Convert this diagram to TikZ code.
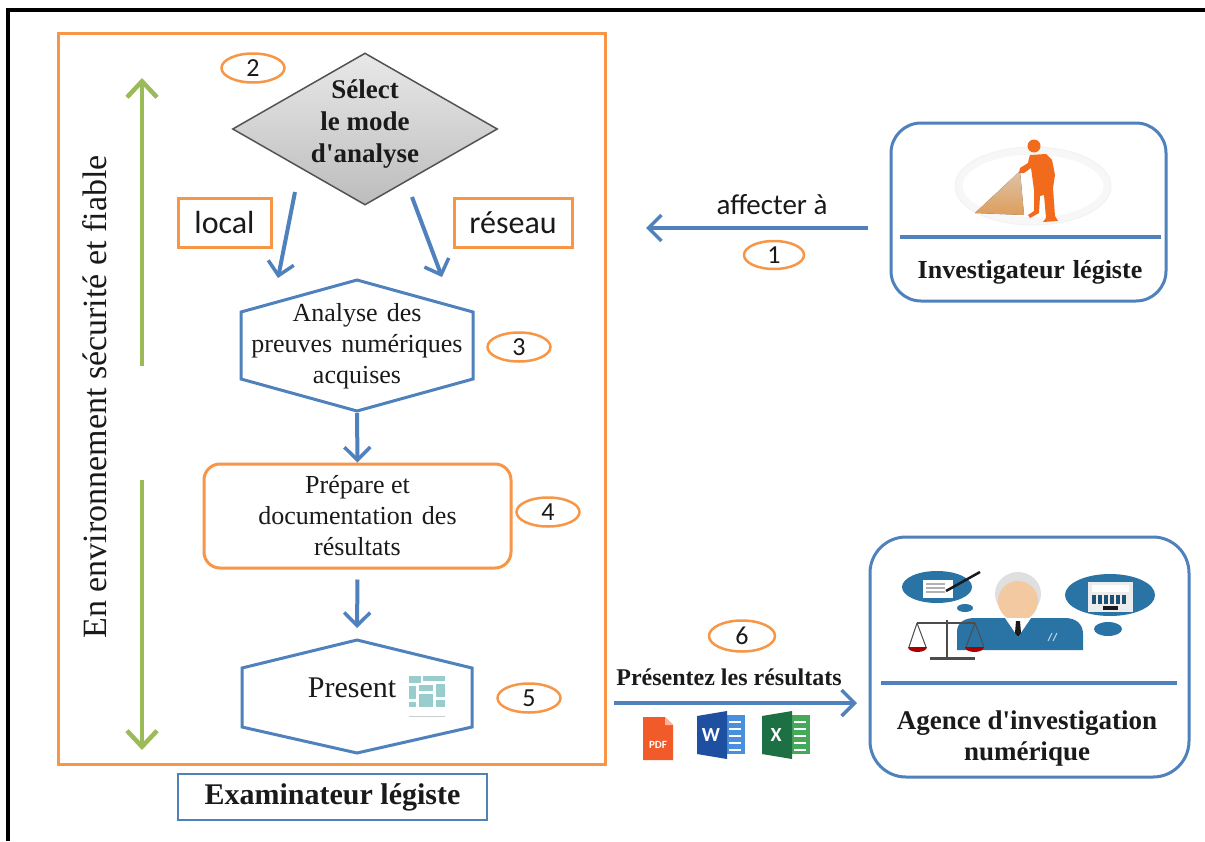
\documentclass[tikz,border=0pt]{standalone}
\usepackage{fontspec}
\setmainfont{Liberation Serif}
\newfontfamily\calibri{Carlito}
\usetikzlibrary{shapes.geometric,arrows.meta,calc}

\definecolor{ofblue}{HTML}{4F81BD}
\definecolor{oforange}{HTML}{F79646}
\definecolor{ofgreen}{HTML}{9BBB59}
\definecolor{figorange}{HTML}{F26A1B}
\definecolor{jblue}{HTML}{2A73A5}
\definecolor{skin}{HTML}{F2C9A0}
\definecolor{pdfred}{HTML}{F15A29}
\definecolor{wdark}{HTML}{1E4FA0}
\definecolor{wlight}{HTML}{4A8FDB}
\definecolor{xdark}{HTML}{1D7044}
\definecolor{xlight}{HTML}{46A85A}
\definecolor{ink}{HTML}{1A1A1A}

\tikzset{
  flowarrow/.style={draw=ofblue, line width=4pt,
    -{Straight Barb[length=13pt,width=26pt,line width=3.5pt]}},
  envarrow/.style={draw=ofgreen, line width=4.5pt,
    -{Straight Barb[length=16pt,width=30pt,line width=4.5pt]}},
  numtag/.style={ellipse, draw=oforange, line width=2.5pt, fill=white,
    minimum width=63pt, minimum height=29pt, inner sep=0pt,
    font=\calibri\fontsize{26}{26}\selectfont, text=ink},
  choicebox/.style={draw=oforange, line width=3pt, fill=white,
    minimum height=49pt, inner sep=0pt,
    font=\calibri\fontsize{32}{32}\selectfont, text=ink},
  hexline/.style={draw=ofblue, line width=3pt, fill=white, line join=miter},
  actorbox/.style={draw=ofblue, line width=3pt, fill=white},
  sepline/.style={draw=ofblue, line width=4pt},
}

\begin{document}
\begin{tikzpicture}[x=1pt,y=-1pt]
\useasboundingbox (0,0) rectangle (1205,841);
\fill[white] (0,0) rectangle (1205,841);

% outer black border (top and left)
\draw[line width=4pt, black] (8,841) -- (8,10) -- (1205,10);

% ---------------- examiner frame ----------------
\node[draw=oforange, line width=3pt, minimum width=547pt, minimum height=731pt,
      anchor=north west, inner sep=0pt] (frame) at (57,32) {};
\node[draw=ofblue, line width=2.5pt, fill=white, minimum width=309pt,
      minimum height=46pt, font=\bfseries\fontsize{30}{30}\selectfont, text=ink]
      (exam) at (332.5,797) {Examinateur légiste};

% secure environment arrows and caption
\coordinate (g1a) at (142,366);
\coordinate (g1b) at (142,78);
\coordinate (g2a) at (142,480);
\coordinate (g2b) at (142,750);
\draw[envarrow] (g1a) -- (g1b);
\draw[envarrow] (g2a) -- (g2b);
\node[rotate=90, font=\fontsize{34}{34}\selectfont, text=ink] (env) at (95,397)
      {En environnement sécurité et fiable};

% decision diamond
\node[diamond, draw=gray!65!black, line width=1.5pt, top color=gray!18,
      bottom color=gray!52, minimum width=265pt, minimum height=152pt,
      inner sep=0pt] (sel) at (365,129) {};
\node[font=\bfseries\fontsize{27}{32}\selectfont, align=center, text=ink]
      (seltxt) at (365,124) {Sélect\\le mode\\d\textquotesingle analyse};
\node[numtag] (n2) at (253,68) {2};

% local / network choices
\node[choicebox, minimum width=93pt] (loc) at (224.5,222.5) {local};
\node[choicebox, minimum width=118pt] (net) at (513,222.5) {réseau};
\coordinate (locs) at (295,192);
\coordinate (loce) at (278,278);
\coordinate (nets) at (412,197);
\coordinate (nete) at (442,277);
\draw[flowarrow] (locs) -- (loce);
\draw[flowarrow] (nets) -- (nete);

% step 3: analysis hexagon
\path[hexline] (357,280) coordinate (h3t) -- (473,312) -- (473,379)
      -- (357,411) coordinate (h3b) -- (241,379) -- (241,312) -- cycle;
\node[font=\fontsize{26}{31}\selectfont, align=center, text=ink] (ana) at (357,346)
      {Analyse\hspace{9pt}des\\preuves\hspace{9pt}numériques\\acquises};
\node[numtag] (n3) at (519,347) {3};

% step 4: documentation box
\node[draw=oforange, line width=3pt, fill=white, rounded corners=16pt,
      minimum width=307pt, minimum height=104pt, align=center, text=ink,
      font=\fontsize{26}{31}\selectfont] (prep) at (357.5,516)
      {Prépare et\\documentation\hspace{9pt}des\\résultats};
\node[numtag] (n4) at (548,512) {4};
\draw[flowarrow] ($(h3b)+(0,2)$) -- (prep.north);

% step 5: presentation hexagon
\path[hexline] (357,640) coordinate (h5t) -- (472,668) -- (472,727)
      -- (357,753) coordinate (h5b) -- (242,727) -- (242,668) -- cycle;
\draw[flowarrow] ($(prep.south)+(0,10)$) -- ($(h5t)+(0,-12)$);
\node[font=\fontsize{30}{30}\selectfont, text=ink] (pres) at (352,688) {Present};
% small slide icon
\begin{scope}[fill=teal!40]
  \fill (409,676) rectangle (421,683);
  \fill (423,676) rectangle (445,681);
  \fill (409,686) rectangle (416,699);
  \fill (419,685) rectangle (433,691);
  \fill (436,684) rectangle (445,697);
  \fill (419,694) rectangle (433,707);
  \fill (409,702) rectangle (416,707);
  \fill (436,700) rectangle (445,707);
\end{scope}
\draw[gray!40, line width=1pt] (409,716) -- (445,716);
\node[numtag] (n5) at (529,698) {5};

% ---------------- investigator ----------------
\node[actorbox, rounded corners=30pt, minimum width=275pt, minimum height=178pt]
      (inv) at (1028.5,212) {};
\draw[sepline] ($(inv.west)+(10,25)$) -- ($(inv.east)+(-7,25)$);
\node[font=\bfseries\fontsize{26}{26}\selectfont, text=ink] (invtxt) at (1030,272)
      {Investigateur\hspace{8pt}légiste};
% investigator figure with torch
\draw[gray!6, line width=7pt] (1033,186) ellipse [x radius=74, y radius=35];
\draw[gray!10, line width=1pt] (1033,186) ellipse [x radius=78, y radius=39];
\fill[top color=orange!25, bottom color=orange!60, opacity=0.85]
      (1020,171) -- (975,213) -- (1024,215) -- cycle;
\fill[figorange] (1034,146) circle [radius=6.5];
\fill[figorange] (1030,155) -- (1046,154) -- (1052,160) -- (1055,175)
      -- (1053,188) -- (1055,216) -- (1058,221) -- (1043,222) -- (1046,218)
      -- (1044,195) -- (1040,196) -- (1039,213) -- (1030,218) -- (1028,215)
      -- (1034,211) -- (1034,190) -- (1032,175) -- (1031,168) -- (1024,173)
      -- (1019,173) -- (1020,168) -- (1028,163) -- (1029,158) -- cycle;

\coordinate (a1s) at (868,228);
\coordinate (a1e) at (646,228);
\draw[flowarrow] (a1s) -- (a1e);
\node[font=\calibri\fontsize{29}{29}\selectfont, text=ink] (aff) at (772,205) {affecter à};
\node[numtag, minimum width=60pt, minimum height=28pt] (n1) at (774,255) {1};

% ---------------- agency ----------------
\node[actorbox, rounded corners=36pt, minimum width=319pt, minimum height=240pt]
      (agc) at (1029.5,657) {};
\draw[sepline] ($(agc.west)+(12,26)$) -- ($(agc.east)+(-14,26)$);
\node[font=\bfseries\fontsize{27}{31}\selectfont, align=center, text=ink]
      (agctxt) at (1027,738) {Agence d\textquotesingle investigation\\numérique};
% thought bubbles
\fill[jblue] (937,587) ellipse [x radius=35, y radius=16];
\fill[jblue] (965,608) ellipse [x radius=8, y radius=4];
\fill[white] (923,580) rectangle (953,598);
\foreach \yy in {584,588,592} \draw[gray!60, line width=1.5pt] (926,\yy) -- (945,\yy);
\draw[ink, line width=2.5pt] (946,591) -- (980,572);
\fill[jblue] (1110,595) ellipse [x radius=45, y radius=21];
\fill[jblue] (1108,629) ellipse [x radius=14, y radius=7];
\fill[gray!15] (1088,582) rectangle (1133,612);
\fill[white] (1092,585) rectangle (1129,592);
\foreach \xx in {1092,1098,1104,1110,1116,1122}
  \fill[jblue!70!black] (\xx,595) rectangle ++(4,9);
\fill[ink] (1103,606) rectangle (1118,610);
% judge
\fill[gray!25] (1018,594) ellipse [x radius=23, y radius=22];
\fill[skin] (1018,601) ellipse [x radius=20, y radius=20];
\fill[skin] (1010,612) rectangle (1026,620);
\fill[jblue] (957,650) -- (957,632) .. controls (957,622) and (965,618) .. (975,618)
      -- (1065,618) .. controls (1076,618) and (1083,624) .. (1083,634)
      -- (1083,650) -- cycle;
\fill[white] (1005,618) -- (1031,618) -- (1018,637) -- cycle;
\fill[ink] (1016,621) -- (1020,621) -- (1021,633) -- (1018,637) -- (1015,633) -- cycle;
\draw[white!70!jblue, line width=1pt] (1048,641) -- (1052,633) (1053,641) -- (1057,633);
% scales of justice
\draw[gray!60!black, line width=2.5pt] (947,620) -- (947,657);
\draw[gray!60!black, line width=3pt] (930,658) -- (975,658);
\draw[gray!60!black, line width=2pt] (917,623) -- (975,623);
\draw[gray!60!black, line width=1pt] (917,623) -- (909,647) (917,623) -- (926,647)
      (975,623) -- (966,647) (975,623) -- (984,647);
\fill[red!65!black] (908,647) arc [start angle=180, end angle=360, x radius=9.5, y radius=-5];
\fill[red!65!black] (965,647) arc [start angle=180, end angle=360, x radius=9.5, y radius=-5];

% result arrow and file icons
\coordinate (a6s) at (614,703);
\coordinate (a6e) at (857,703);
\draw[flowarrow] (a6s) -- (a6e);
\node[font=\bfseries\fontsize{24}{24}\selectfont, text=ink] (restxt) at (729,677)
      {Présentez les résultats};
\node[numtag, minimum width=66pt, minimum height=31pt] (n6) at (742,636) {6};
% PDF
\fill[pdfred] (643,717) -- (665,717) -- (673,725) -- (673,760) -- (643,760) -- cycle;
\fill[pdfred!45!white] (665,717) -- (665,725) -- (673,725) -- cycle;
\node[font=\calibri\bfseries\fontsize{11}{11}\selectfont, text=white] (pdft) at (658,745) {PDF};
% Word
\fill[wlight] (712,715) rectangle (745,754);
\foreach \yy in {722,729,736,743,750} \draw[white, line width=2pt] (729,\yy) -- (741,\yy);
\fill[wdark] (697,716) -- (727,711) -- (727,759) -- (697,754) -- cycle;
\node[font=\calibri\bfseries\fontsize{20}{20}\selectfont, text=white] (wt) at (711,735) {W};
% Excel
\fill[xlight] (777,715) rectangle (810,754);
\foreach \yy in {722,729,736,743,750} \draw[white, line width=2pt] (794,\yy) -- (806,\yy);
\fill[xdark] (762,716) -- (792,711) -- (792,759) -- (762,754) -- cycle;
\node[font=\calibri\bfseries\fontsize{20}{20}\selectfont, text=white] (xt) at (776,735) {X};
\end{tikzpicture}
\end{document}
